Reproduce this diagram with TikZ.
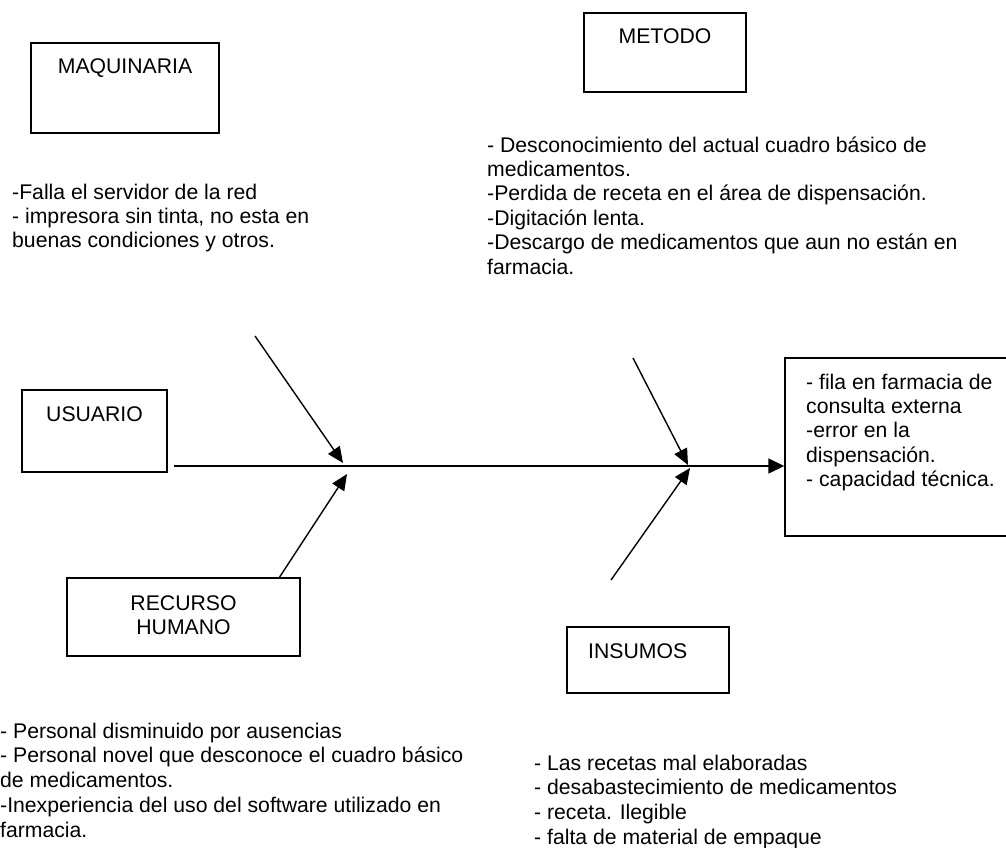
\documentclass[tikz,border=0pt]{standalone}
\usepackage{fontspec}
\setmainfont{Liberation Sans}
\usetikzlibrary{arrows.meta}
\begin{document}
\begin{tikzpicture}[x=1pt,y=-1pt,
  font=\fontsize{21.2}{24.4}\selectfont,
  box/.style={draw, line width=1.4pt, inner sep=0pt},
  lbl/.style={inner sep=0pt, anchor=base},
  txt/.style={inner sep=0pt, anchor=base west},
  bone/.style={line width=1.4pt, -{Triangle[length=16pt,width=14pt]}}]
\useasboundingbox (0,0) rectangle (1006,848);

% boxes
\node[box, minimum width=188pt, minimum height=90pt] (maq) at (125,88) {};
\node[box, minimum width=162pt, minimum height=79pt] (met) at (665,52.5) {};
\node[box, minimum width=145pt, minimum height=82pt] (usu) at (94.5,431) {};
\node[box, minimum width=233pt, minimum height=78pt] (rh) at (183.5,617) {};
\node[box, minimum width=162pt, minimum height=66pt] (ins) at (648,660) {};
\node[box, minimum width=227pt, minimum height=178pt] (eff) at (898.5,447) {};

% box labels
\node[lbl] (maqL) at (125,74) {MAQUINARIA};
\node[lbl] (metL) at (665,44) {METODO};
\node[lbl] (usuL) at (94.5,421) {USUARIO};
\node[lbl] (rhL1) at (183.5,610) {RECURSO};
\node[lbl] (rhL2) at (183.5,634) {HUMANO};
\node[txt] (insL) at (588,658) {INSUMOS};

% cause texts
\node[txt] (maqT) at (12,199) {\begin{tabular}[t]{@{}l@{}}
-Falla el servidor de la red\\
- impresora sin tinta, no esta en\\
buenas condiciones y otros.\end{tabular}};
\node[txt] (metT) at (487,152) {\begin{tabular}[t]{@{}l@{}}
- Desconocimiento del actual cuadro básico de\\
medicamentos.\\
-Perdida de receta en el área de dispensación.\\
-Digitación lenta.\\
-Descargo de medicamentos que aun no están en\\
farmacia.\end{tabular}};
\node[txt] (effT) at (806,389) {\begin{tabular}[t]{@{}l@{}}
- fila en farmacia de\\
consulta externa\\
-error en la\\
dispensación.\\
- capacidad técnica.\end{tabular}};
\node[txt, font=\fontsize{21.2}{24.75}\selectfont] (rhT) at (0,738) {\begin{tabular}[t]{@{}l@{}}
- Personal disminuido por ausencias\\
- Personal novel que desconoce el cuadro básico\\
de medicamentos.\\
-Inexperiencia del uso del software utilizado en\\
farmacia.\end{tabular}};
\node[txt, font=\fontsize{21.2}{24.7}\selectfont] (insT) at (534,770) {\begin{tabular}[t]{@{}l@{}}
- Las recetas mal elaboradas\\
- desabastecimiento de medicamentos\\
- receta. Ilegible\\
- falta de material de empaque\end{tabular}};

% spine
\coordinate (spS) at (174,466);
\draw[line width=1.4pt, -{Triangle[length=16pt,width=15pt]}] (spS) -- (spS -| eff.west);

% bones
\coordinate (b1s) at (255,336);
\coordinate (b1e) at (343,463);
\coordinate (b2s) at (279,578);
\coordinate (b2e) at (347,474);
\coordinate (b3s) at (633,358);
\coordinate (b3e) at (688,465);
\coordinate (b4s) at (611,580);
\coordinate (b4e) at (690,468);
\draw[bone] (b1s) -- (b1e);
\draw[bone] (b2s) -- (b2e);
\draw[bone] (b3s) -- (b3e);
\draw[bone] (b4s) -- (b4e);
\end{tikzpicture}
\end{document}
